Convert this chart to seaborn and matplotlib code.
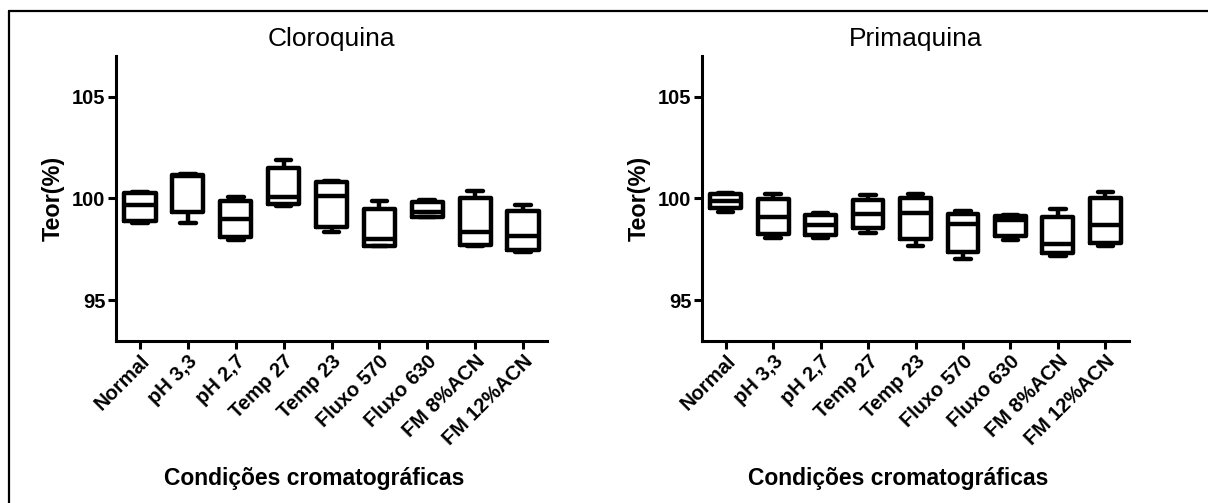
import numpy as np
import pandas as pd
import matplotlib
matplotlib.use("Agg")
import matplotlib.pyplot as plt
from matplotlib.lines import Line2D
import seaborn as sns

conditions = ["Normal", "pH 3,3", "pH 2,7", "Temp 27", "Temp 23",
              "Fluxo 570", "Fluxo 630", "FM 8%ACN", "FM 12%ACN"]

# Cloroquina: five-number summaries per condition
cloro_min = [98.80, 98.79, 97.98, 99.64, 98.33, 97.67, 99.10, 97.69, 97.36]
cloro_q1  = [98.89, 99.36, 98.11, 99.72, 98.61, 97.67, 99.10, 97.72, 97.46]
cloro_med = [99.70, 101.12, 99.00, 100.08, 100.13, 98.03, 99.32, 98.36, 98.16]
cloro_q3  = [100.28, 101.15, 99.89, 101.48, 100.80, 99.49, 99.82, 100.00, 99.39]
cloro_max = [100.30, 101.18, 100.05, 101.87, 100.87, 99.87, 99.93, 100.38, 99.66]

# Primaquina: five-number summaries per condition
prima_min = [99.35, 98.04, 98.04, 98.29, 97.65, 97.03, 97.94, 97.19, 97.67]
prima_q1  = [99.51, 98.27, 98.22, 98.53, 97.99, 97.39, 98.17, 97.31, 97.80]
prima_med = [99.89, 99.09, 98.68, 99.25, 99.27, 98.73, 98.92, 97.75, 98.68]
prima_q3  = [100.20, 99.98, 99.17, 99.95, 100.00, 99.22, 99.12, 99.07, 100.03]
prima_max = [100.26, 100.20, 99.31, 100.15, 100.20, 99.38, 99.17, 99.46, 100.34]

yticks = [95, 100, 105]


def long_frame(mins, q1s, meds, q3s, maxs):
    rows = []
    for c, a, b, m, d, e in zip(conditions, mins, q1s, meds, q3s, maxs):
        for v in (a, b, m, d, e):
            rows.append({"cond": c, "teor": v})
    return pd.DataFrame(rows)


panels = [
    ("Cloroquina", long_frame(cloro_min, cloro_q1, cloro_med, cloro_q3, cloro_max)),
    ("Primaquina", long_frame(prima_min, prima_q1, prima_med, prima_q3, prima_max)),
]

sns.set_style("ticks")
plt.rcParams["font.family"] = ["Liberation Sans", "DejaVu Sans"]
for k in ("text.color", "axes.labelcolor", "xtick.color", "ytick.color",
          "axes.edgecolor"):
    plt.rcParams[k] = "black"

W, H = 1208, 503
fig = plt.figure(figsize=(W / 100, H / 100), dpi=100)

axes_px = [(116, 56, 431, 285), (702, 56, 427, 285)]

for (title, df), (x0, y0, w, h) in zip(panels, axes_px):
    ax = fig.add_axes([x0 / W, 1 - (y0 + h) / H, w / W, h / H])
    sns.boxplot(data=df, x="cond", y="teor", order=conditions, ax=ax,
                whis=(0, 100), fill=False, color="black", linewidth=3.2,
                width=0.65, showfliers=False)
    ax.set_xlim(-0.5, len(conditions) - 0.5)
    ax.set_ylim(93, 107)
    ax.set_yticks(yticks)
    ax.set_yticklabels([str(t) for t in yticks], fontsize=14.5, fontweight="bold")
    ax.set_xticks(range(len(conditions)))
    ax.set_xticklabels(conditions, fontsize=14.5, fontweight="bold",
                       rotation=45, ha="right", rotation_mode="anchor")
    ax.tick_params(axis="both", direction="out", length=5.5, width=2.2,
                   color="black", labelcolor="black", pad=2)
    for s in ("top", "right"):
        ax.spines[s].set_visible(False)
    for s in ("left", "bottom"):
        ax.spines[s].set_linewidth(2.2)
        ax.spines[s].set_color("black")
    ax.set_title(title, fontsize=19, pad=7, color="black")
    ax.set_xlabel("Condições cromatográficas", fontsize=16.5, fontweight="bold",
                  color="black")
    ax.set_ylabel("Teor(%)", fontsize=16.8, fontweight="bold", color="black")
    ax.xaxis.set_label_coords(0.46, -0.482)
    ax.xaxis.label.set_va("center")
    ax.yaxis.set_label_coords(-0.146, 0.5)
    ax.yaxis.label.set_va("center")

# outer frame (only top and left edges visible)
fig.add_artist(Line2D([9.3 / W, 1.0], [1 - 10.5 / H, 1 - 10.5 / H],
                      color="black", lw=1.6, transform=fig.transFigure))
fig.add_artist(Line2D([9.3 / W, 9.3 / W], [0.0, 1 - 10.5 / H],
                      color="black", lw=1.6, transform=fig.transFigure))

fig.savefig("out.png", dpi=100)
